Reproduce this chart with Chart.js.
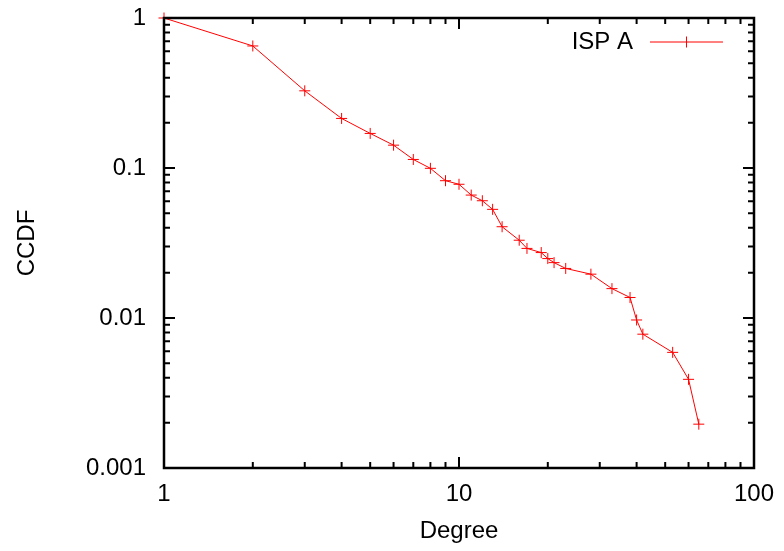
<!DOCTYPE html>
<html>
<head>
<meta charset="utf-8">
<script src="https://cdn.jsdelivr.net/npm/chart.js@4"></script>
<style>
  body { margin: 0; background: #fff; }
  #wrap { width: 784px; height: 551px; }
</style>
</head>
<body>
<div id="wrap"><canvas id="grafico" width="784" height="551"></canvas></div>
<script>
// valores
const degree = [1, 2, 3, 4, 5, 6, 7, 8, 9, 10, 11, 12, 13, 14, 16, 17, 19, 20, 21, 23, 28, 33, 38, 40, 42, 53, 60, 65];
const ccdf = [1, 0.651, 0.327, 0.214, 0.17, 0.142, 0.114, 0.0995, 0.0823, 0.0779, 0.066, 0.0605, 0.053, 0.0406,
  0.033, 0.0291, 0.0273, 0.0249, 0.0234, 0.0214, 0.0196, 0.0157, 0.0137, 0.0097, 0.0078, 0.0059, 0.0039, 0.00196];
const xTicks = [1, 10, 100];
const yTicks = [0.001, 0.01, 0.1, 1];
const serieNome = "ISP A";

const fonte = { family: "'Liberation Sans', Arial, sans-serif", size: 24 };
const vermelho = "rgb(255, 0, 0)";

// marcas de escala para dentro, estilo gnuplot, nos quatro lados
function marcasLog(min, max) {
  let lista = [];
  for (let d = Math.floor(Math.log10(min)); d < Math.ceil(Math.log10(max)); d++) {
    for (let m = 1; m <= 9; m++) {
      let v = m * Math.pow(10, d);
      if (v >= min * 0.999 && v <= max * 1.001) lista.push({ v: v, major: m === 1 });
    }
  }
  lista.push({ v: max, major: true });
  return lista;
}

const molduraPlugin = {
  id: "moldura",
  afterDatasetsDraw(chart) {
    const { ctx, chartArea: a, scales } = chart;
    ctx.save();
    ctx.strokeStyle = "#000";
    ctx.lineWidth = 2;
    marcasLog(scales.x.min, scales.x.max).forEach((t) => {
      let px = scales.x.getPixelForValue(t.v);
      let len = t.major ? 11 : 6;
      ctx.beginPath();
      ctx.moveTo(px, a.bottom);
      ctx.lineTo(px, a.bottom - len);
      ctx.moveTo(px, a.top);
      ctx.lineTo(px, a.top + len);
      ctx.stroke();
    });
    marcasLog(scales.y.min, scales.y.max).forEach((t) => {
      let py = scales.y.getPixelForValue(t.v);
      let len = t.major ? 11 : 6;
      ctx.beginPath();
      ctx.moveTo(a.left, py);
      ctx.lineTo(a.left + len, py);
      ctx.moveTo(a.right, py);
      ctx.lineTo(a.right - len, py);
      ctx.stroke();
    });
    ctx.lineWidth = 2.5;
    ctx.strokeRect(a.left, a.top, a.right - a.left, a.bottom - a.top);

    // legenda
    const ds = chart.data.datasets[0];
    let ly = a.top + 24;
    let x1 = a.right - 104;
    let x2 = a.right - 31;
    ctx.fillStyle = "#000";
    ctx.font = fonte.size + "px " + fonte.family;
    ctx.textAlign = "right";
    ctx.textBaseline = "middle";
    ctx.fillText(ds.label, x1 - 17, ly);
    ctx.strokeStyle = ds.borderColor;
    ctx.lineWidth = 1;
    ctx.beginPath();
    ctx.moveTo(x1, ly);
    ctx.lineTo(x2, ly);
    let xc = (x1 + x2) / 2;
    ctx.moveTo(xc, ly - 5.5);
    ctx.lineTo(xc, ly + 5.5);
    ctx.stroke();
    ctx.restore();
  },
};

const ctx = document.getElementById("grafico").getContext("2d");

new Chart(ctx, {
  type: "line",
  data: {
    datasets: [
      {
        label: serieNome,
        data: degree.map((d, i) => ({ x: d, y: ccdf[i] })),
        borderColor: vermelho,
        backgroundColor: vermelho,
        borderWidth: 1,
        tension: 0,
        fill: false,
        pointStyle: "cross",
        pointRadius: 5.5,
        pointBorderWidth: 1,
        pointHoverRadius: 5.5,
        clip: false,
      },
    ],
  },
  options: {
    responsive: false,
    animation: false,
    events: [],
    layout: { padding: { top: 18, right: 30, left: 0, bottom: 0 } },
    plugins: { legend: { display: false }, tooltip: { enabled: false } },
    scales: {
      x: {
        type: "logarithmic",
        min: 1,
        max: 100,
        grid: { display: false, drawTicks: false },
        border: { display: false },
        afterBuildTicks: (s) => { s.ticks = xTicks.map((v) => ({ value: v })); },
        afterFit: (s) => { s.height = 83; s.paddingLeft = 0; s.paddingRight = 0; },
        ticks: { font: fonte, color: "#000", padding: 12, maxRotation: 0, autoSkip: false, callback: (v) => String(v) },
        title: { display: true, text: "Degree", font: fonte, color: "#000", padding: { top: 0, bottom: 5 } },
      },
      y: {
        type: "logarithmic",
        min: 0.001,
        max: 1,
        grid: { display: false, drawTicks: false },
        border: { display: false },
        afterBuildTicks: (s) => { s.ticks = yTicks.map((v) => ({ value: v })); },
        afterFit: (s) => { s.width = 164; s.paddingTop = 0; s.paddingBottom = 0; },
        ticks: { font: fonte, color: "#000", padding: 18, autoSkip: false, callback: (v) => String(v) },
        title: { display: true, text: "CCDF", font: fonte, color: "#000", padding: { top: 13, bottom: 0 } },
      },
    },
  },
  plugins: [molduraPlugin],
});
</script>
</body>
</html>
